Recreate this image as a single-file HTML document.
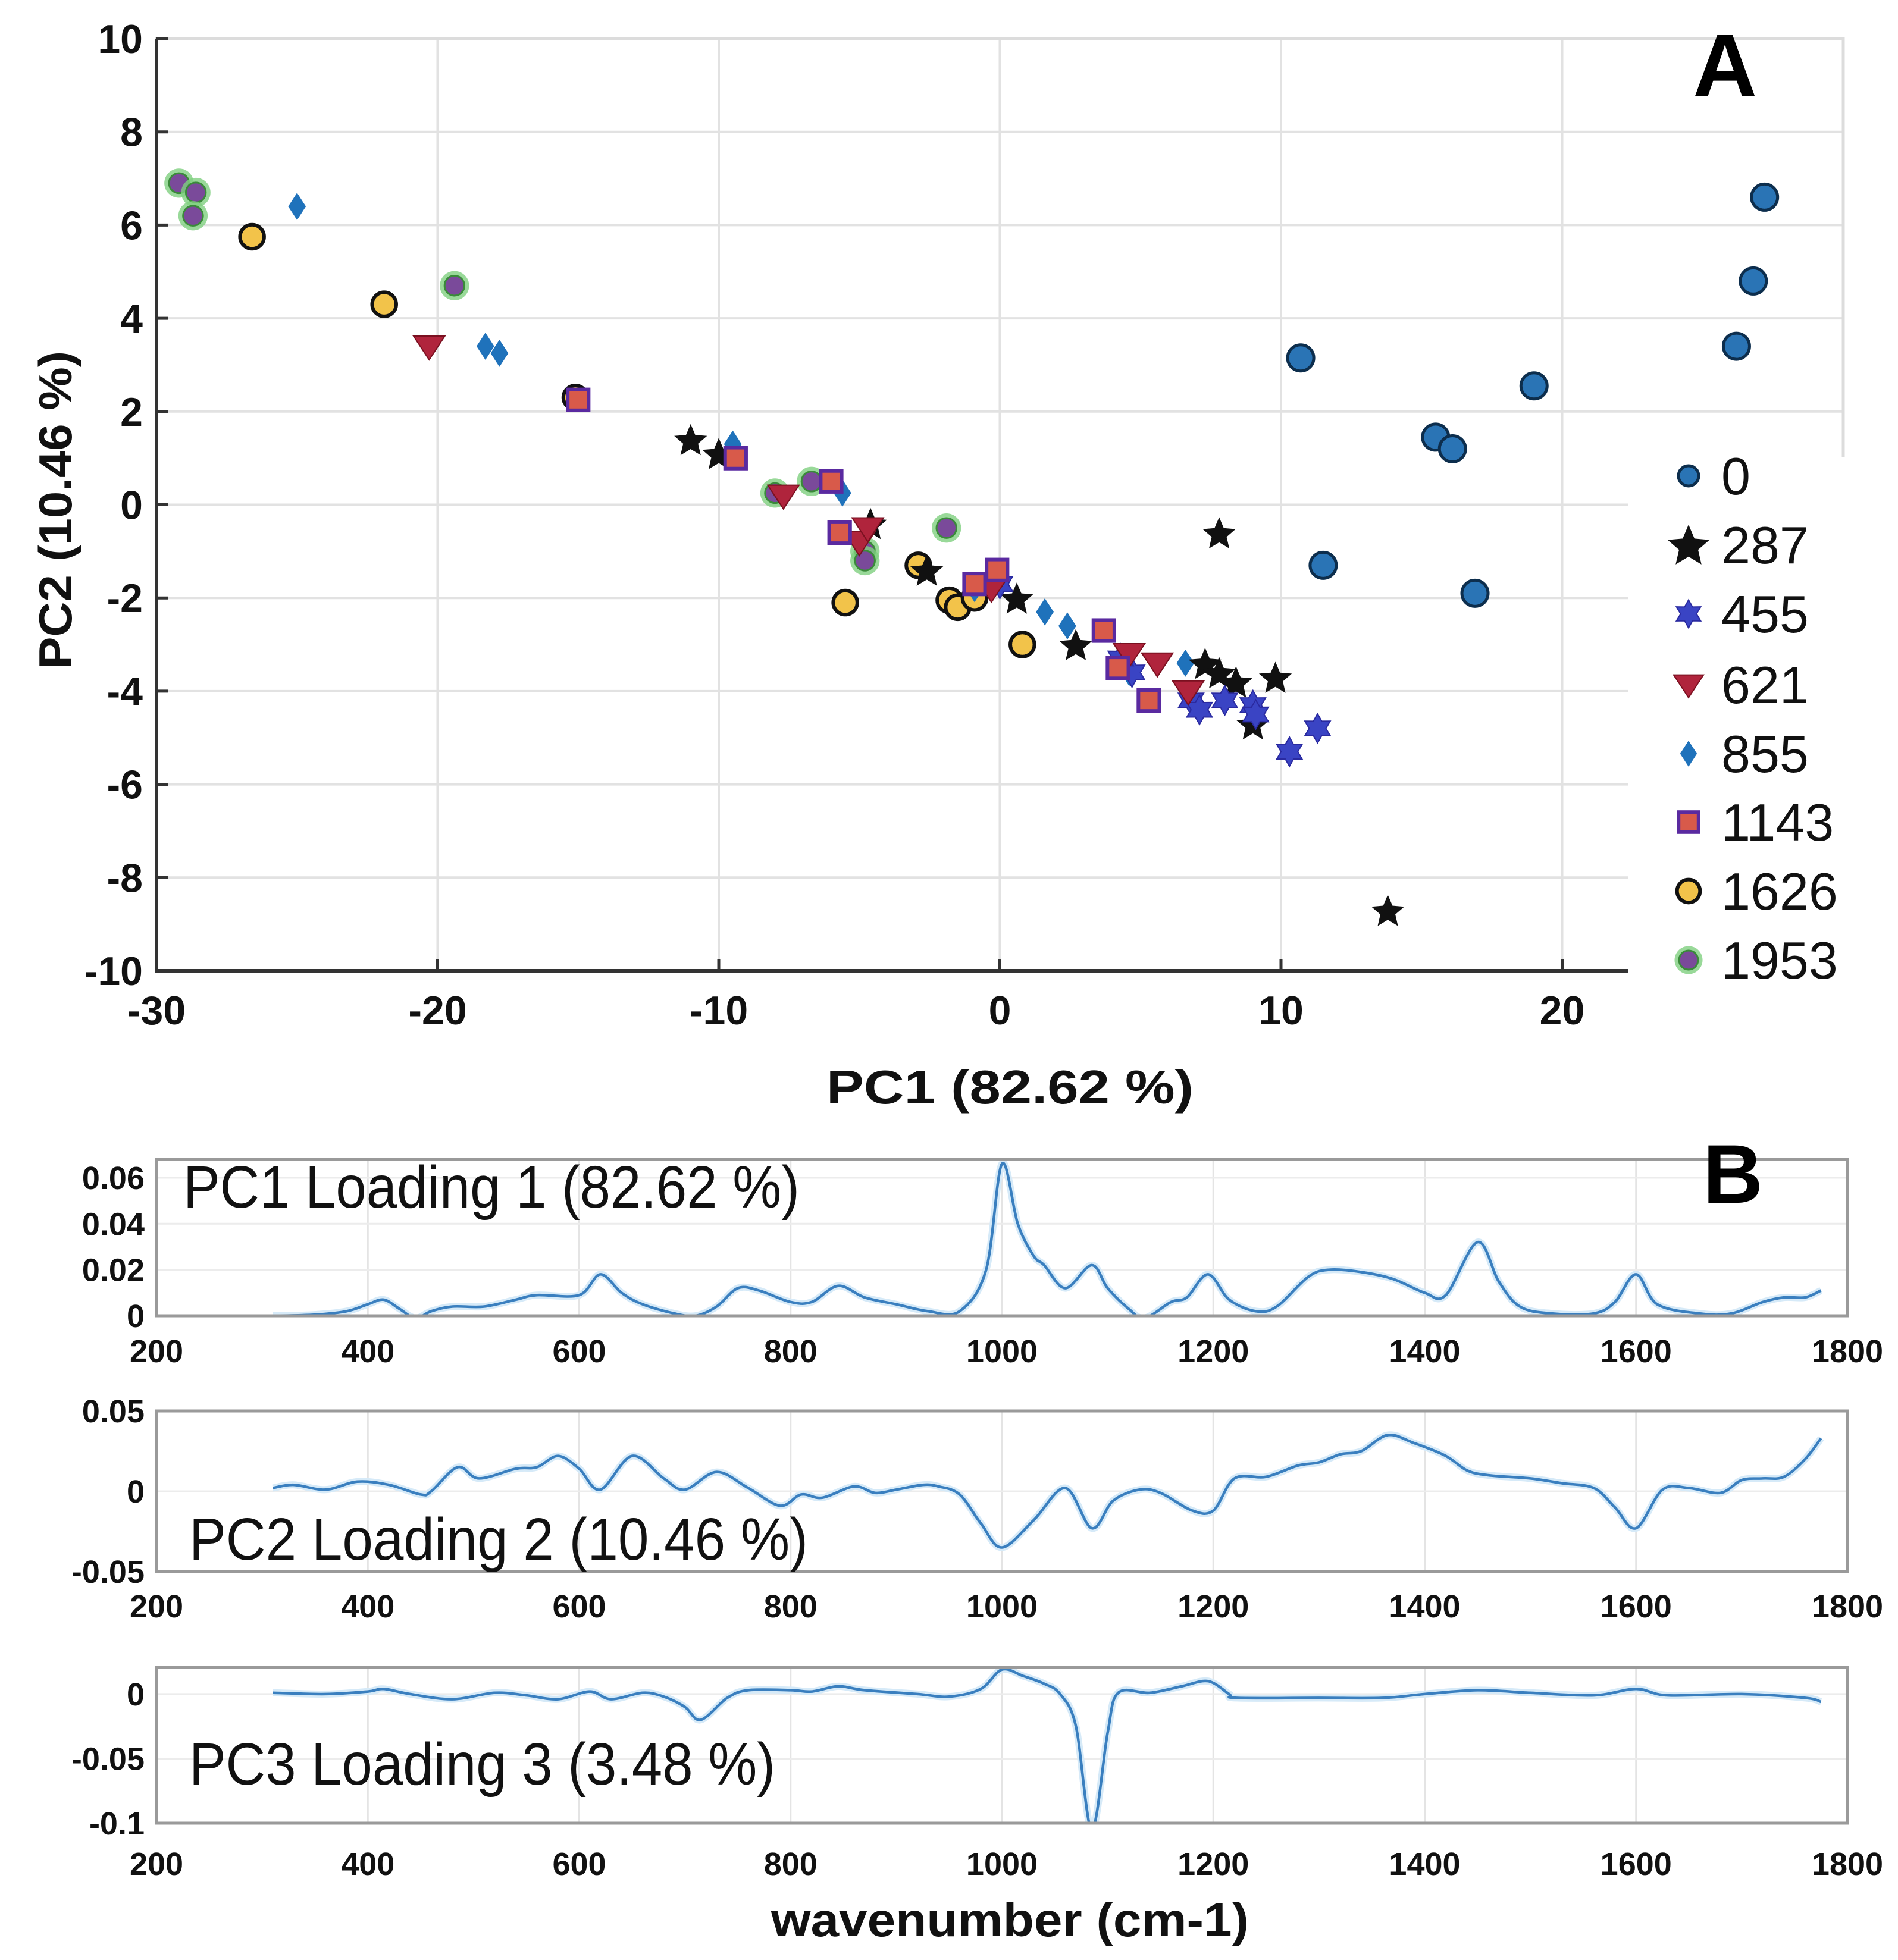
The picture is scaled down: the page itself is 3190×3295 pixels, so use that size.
<!DOCTYPE html>
<html><head><meta charset="utf-8"><style>
html,body{margin:0;padding:0;background:#fff;}
svg{display:block;}
text{font-family:"Liberation Sans",Arial,sans-serif;}
</style></head><body>
<svg id="fig" width="3190" height="3295" viewBox="0 0 3190 3295" xmlns="http://www.w3.org/2000/svg">
<g id="panelA"></g>
<g id="panelB"></g>
</svg>
<script>
// ---------- Panel A data ----------
const seriesNames = ["0","287","455","621","855","1143","1626","1953"];
const s0x = [27.2,26.8,26.2,19.0,10.7,15.5,16.1,11.5,16.9];
const s0y = [6.6,4.8,3.4,2.55,3.15,1.45,1.2,-1.3,-1.9];
const s287x = [-11,-10,-4.6,-2.6,0.6,2.7,7.3,7.8,8.4,9.8,9.0,7.8,13.8];
const s287y = [1.4,1.1,-0.4,-1.4,-2.0,-3.0,-3.4,-3.6,-3.8,-3.7,-4.7,-0.6,-8.7];
const s455x = [4.7,6.8,7.1,8.0,9.0,9.1,10.3,11.3,4.3,0.0];
const s455y = [-3.6,-4.2,-4.4,-4.2,-4.3,-4.5,-5.3,-4.8,-3.3,-1.7];
const s621x = [-20.3,-7.7,-5.0,-0.3,4.6,5.6,6.7,-4.7];
const s621y = [3.4,0.2,-0.8,-1.8,-3.2,-3.4,-4.0,-0.5];
const s855x = [-25,-18.3,-17.8,-9.5,-5.6,1.6,2.4,4.2,4.6,6.6,-0.9];
const s855y = [6.4,3.4,3.25,1.3,0.25,-2.3,-2.6,-3.4,-3.6,-3.4,-1.8];
const s1143x = [-15,-9.4,-6.0,-5.7,-0.1,-0.9,3.7,5.3,4.2];
const s1143y = [2.25,1.0,0.5,-0.6,-1.4,-1.7,-2.7,-4.2,-3.5];
const s1626x = [-26.6,-21.9,-15.1,-2.9,-5.5,-1.8,-1.5,-0.9,0.8];
const s1626y = [5.75,4.3,2.3,-1.3,-2.1,-2.05,-2.2,-2.0,-3.0];
const s1953x = [-29.2,-28.6,-28.7,-19.4,-8.0,-6.7,-4.8,-4.8,-1.9];
const s1953y = [6.9,6.7,6.2,4.7,0.25,0.5,-1.0,-1.2,-0.5];
const xTicksA = [-30,-20,-10,0,10,20];
const yTicksA = [-10,-8,-6,-4,-2,0,2,4,6,8,10];

// ---------- Panel B data ----------
const wTicks = [200,400,600,800,1000,1200,1400,1600,1800];
const pc1w = [310,350,380,400,415,430,445,460,480,510,540,560,600,620,640,660,690,710,730,750,770,800,820,845,870,900,930,960,985,1000,1015,1030,1040,1060,1085,1100,1120,1135,1160,1175,1195,1215,1240,1260,1290,1310,1340,1370,1400,1420,1450,1470,1490,1520,1560,1580,1600,1620,1660,1690,1720,1740,1760,1775];
const pc1v = [0,0.0005,0.002,0.005,0.007,0.003,-0.001,0.002,0.004,0.004,0.007,0.009,0.009,0.018,0.01,0.005,0.001,0,0.004,0.012,0.011,0.006,0.006,0.013,0.008,0.005,0.002,0.002,0.02,0.066,0.04,0.026,0.022,0.012,0.022,0.012,0.003,-0.001,0.006,0.008,0.018,0.007,0.002,0.004,0.017,0.02,0.019,0.016,0.01,0.009,0.032,0.015,0.004,0.001,0.001,0.006,0.018,0.005,0.001,0.001,0.006,0.008,0.008,0.011];
const pc2w = [310,330,360,390,420,450,460,485,505,540,560,580,600,620,650,680,700,730,760,790,810,830,860,880,900,925,940,960,980,1000,1030,1060,1085,1105,1130,1150,1180,1200,1220,1250,1280,1300,1320,1340,1365,1390,1420,1440,1460,1500,1530,1560,1580,1600,1625,1650,1680,1700,1720,1740,1760,1775];
const pc2v = [0.002,0.004,0.001,0.006,0.004,-0.002,0,0.015,0.008,0.014,0.015,0.022,0.014,0.001,0.022,0.008,0.001,0.012,0.002,-0.009,-0.002,-0.004,0.003,-0.001,0.001,0.004,0.003,-0.002,-0.02,-0.035,-0.018,0.002,-0.023,-0.006,0.001,-0.001,-0.012,-0.012,0.008,0.009,0.016,0.018,0.023,0.025,0.035,0.03,0.022,0.013,0.01,0.008,0.005,0.002,-0.01,-0.023,0.001,0.002,-0.001,0.007,0.008,0.009,0.02,0.033];
const pc3w = [310,360,400,415,440,480,520,550,580,610,630,660,680,700,715,740,760,800,820,845,870,920,950,980,1000,1020,1040,1055,1070,1085,1100,1110,1140,1170,1195,1215,1222,1300,1360,1400,1450,1500,1560,1600,1630,1700,1760,1775];
const pc3v = [0.001,0,0.002,0.004,0,-0.004,0.001,-0.001,-0.004,0.002,-0.004,0.001,-0.002,-0.01,-0.02,-0.003,0.003,0.003,0.002,0.006,0.003,0,-0.002,0.004,0.019,0.014,0.008,0,-0.025,-0.105,-0.03,0.001,0.001,0.006,0.01,0,-0.003,-0.003,-0.003,0,0.003,0.001,-0.001,0.004,-0.001,0,-0.003,-0.006];

const NS = "http://www.w3.org/2000/svg";
function mk(parent, tag, attrs, txt){
  const e = document.createElementNS(NS, tag);
  for (const k in attrs) e.setAttribute(k, attrs[k]);
  if (txt !== undefined) e.textContent = txt;
  parent.appendChild(e);
  return e;
}
const A = document.getElementById('panelA');
const B = document.getElementById('panelB');

// ---------- Panel A axes ----------
const aL=263, aR=3098, aT=65, aB=1632;
const ax = v => aL + (v + 30) / 60 * (aR - aL);
const ay = v => aB - (v + 10) / 20 * (aB - aT);

let g = mk(A,'g',{});


xTicksA.forEach(t=>{ if(t>-30){ const l=mk(g,'line',{x1:ax(t),x2:ax(t),y1:aT,y2:aB,stroke:'#e2e2e2','stroke-width':4});   }});
yTicksA.forEach(t=>{ if(t>-10){ const l=mk(g,'line',{x1:aL,x2:aR,y1:ay(t),y2:ay(t),stroke:'#e2e2e2','stroke-width':4});   }});
let fr = mk(A,'rect',{x:aL,y:aT,width:aR-aL,height:aB-aT,fill:'none',stroke:'#dcdcdc','stroke-width':5});



function star(n, ro, ri, cx, cy){
  const p=[]; for(let i=0;i<2*n;i++){const r=i%2?ri:ro; const a=-Math.PI/2+i*Math.PI/n; p.push((cx+r*Math.cos(a)).toFixed(1)+','+(cy+r*Math.sin(a)).toFixed(1));}
  return p.join(' ');
}
function marker(par, type, cx, cy, s){
  let e;
  if(type==='0'){ e=mk(par,'circle',{cx:cx,cy:cy,r:s*0.5,fill:'#2a74b5',stroke:'#0d2e4d','stroke-width':5}); }
  else if(type==='287'){ e=mk(par,'polygon',{points:star(5,s*0.66,s*0.3,cx,cy+3),fill:'#111'}); }
  else if(type==='455'){ e=mk(par,'polygon',{points:star(6,s*0.56,s*0.32,cx,cy),fill:'#3a44c4',stroke:'#2a2aa0','stroke-width':2}); }
  else if(type==='621'){ const h=s*0.52; e=mk(par,'polygon',{points:`${cx-h*1.15},${cy-h*0.75} ${cx+h*1.15},${cy-h*0.75} ${cx},${cy+h}`,fill:'#b0243c',stroke:'#7a1020','stroke-width':2}); }
  else if(type==='855'){ const h=s*0.52; e=mk(par,'polygon',{points:`${cx},${cy-h} ${cx+h*0.65},${cy} ${cx},${cy+h} ${cx-h*0.65},${cy}`,fill:'#1f72bb'}); }
  else if(type==='1143'){ const h=s*0.4; e=mk(par,'rect',{x:cx-h,y:cy-h,width:2*h,height:2*h,fill:'#d85a4a',stroke:'#5a2aa0','stroke-width':6}); }
  else if(type==='1626'){ e=mk(par,'circle',{cx:cx,cy:cy,r:s*0.46,fill:'#f2c34a',stroke:'#111','stroke-width':6}); }
  else { mk(par,'circle',{cx:cx,cy:cy,r:s*0.56,fill:'#7fd07f',opacity:0.8}); e=mk(par,'circle',{cx:cx,cy:cy,r:s*0.38,fill:'#7a4a9a',stroke:'#3a8a3a','stroke-width':3}); }
  return e;
}
const seriesX=[s0x,s287x,s455x,s621x,s855x,s1143x,s1626x,s1953x];
const seriesY=[s0y,s287y,s455y,s621y,s855y,s1143y,s1626y,s1953y];
const drawOrder=[6,7,4,1,2,3,5,0];
drawOrder.forEach(si=>{
  const sg=mk(A,'g',{});
  
  
  seriesX[si].forEach((xv,i)=>{
    const m=marker(sg,seriesNames[si],ax(xv),ay(seriesY[si][i]),44);
    
    
  });
});

// legend
const lg=mk(A,'g',{});


mk(lg,'rect',{x:2737,y:768,width:453,height:960,fill:'#fff'});
const legY=[800,916,1032,1151,1267,1382,1498,1614];
seriesNames.forEach((n,i)=>{
  const eg=mk(lg,'g',{});
  
  
  marker(eg,n,2838,legY[i],n==='287'?56:(n==='0'?34:42));
  const t=mk(eg,'text',{x:2893,y:legY[i]+31,'font-size':88,'font-family':'"DejaVu Sans",sans-serif',fill:'#111'},n);
  
  
});

mk(A,'line',{x1:aL,x2:aL,y1:aT,y2:aB+3,stroke:'#333','stroke-width':6});
mk(A,'line',{x1:aL-3,x2:2737,y1:aB,y2:aB,stroke:'#333','stroke-width':6});
xTicksA.forEach(t=>{
  mk(A,'line',{x1:ax(t),x2:ax(t),y1:aB,y2:aB-20,stroke:'#333','stroke-width':5});
  const tx=mk(A,'text',{x:ax(t),y:1722,'font-size':68,'font-weight':'bold','text-anchor':'middle',fill:'#111'},String(t));
  
  
});
yTicksA.forEach(t=>{
  mk(A,'line',{x1:aL,x2:aL+20,y1:ay(t),y2:ay(t),stroke:'#333','stroke-width':5});
  const tx=mk(A,'text',{x:240,y:ay(t)+24,'font-size':68,'font-weight':'bold','text-anchor':'end',fill:'#111'},String(t));
  
  
});
let t1=mk(A,'text',{x:1389,y:1855,'font-size':80,'font-weight':'bold',fill:'#111',textLength:617,lengthAdjust:'spacingAndGlyphs'},'PC1   (82.62 %)');


let t2=mk(A,'text',{x:0,y:0,'font-size':78,'font-weight':'bold',fill:'#111',textLength:535,lengthAdjust:'spacingAndGlyphs',transform:'translate(120,1125) rotate(-90)'},'PC2   (10.46 %)');


let tA=mk(A,'text',{x:2845,y:162,'font-size':150,'font-weight':'bold',fill:'#000'},'A');



// ---------- Panel B ----------
const bL=263, bR=3105;
const bx = w => bL + (w-200)/1600*(bR-bL);
function smoothPath(P){
  let d='M'+P[0][0].toFixed(1)+','+P[0][1].toFixed(1);
  for(let i=0;i<P.length-1;i++){
    const p0=P[Math.max(0,i-1)], p1=P[i], p2=P[i+1], p3=P[Math.min(P.length-1,i+2)];
    const c1x=p1[0]+(p2[0]-p0[0])/6, c1y=p1[1]+(p2[1]-p0[1])/6;
    const c2x=p2[0]-(p3[0]-p1[0])/6, c2y=p2[1]-(p3[1]-p1[1])/6;
    d+=` C${c1x.toFixed(1)},${c1y.toFixed(1)} ${c2x.toFixed(1)},${c2y.toFixed(1)} ${p2[0].toFixed(1)},${p2[1].toFixed(1)}`;
  }
  return d;
}
function loadingPanel(name, top, bottom, ymin, ymax, yt, ytl, ws, vs, label, lblX, lblY, lblW, tickY){
  const pg=mk(B,'g',{});
  
  
  const by = v => bottom - (v-ymin)/(ymax-ymin)*(bottom-top);
  wTicks.forEach(w=>{ if(w>200&&w<1800){ const l=mk(pg,'line',{x1:bx(w),x2:bx(w),y1:top,y2:bottom,stroke:'#e4e4e4','stroke-width':3});   }});
  yt.forEach(v=>{ const l=mk(pg,'line',{x1:bL,x2:bR,y1:by(v),y2:by(v),stroke:'#ececec','stroke-width':3});   });
  const cp='clip'+name;
  const defs=mk(pg,'defs',{}); const c=mk(defs,'clipPath',{id:cp}); mk(c,'rect',{x:bL,y:top,width:bR-bL,height:bottom-top});
  const d=smoothPath(ws.map((w,i)=>[bx(w),by(vs[i])]));
  mk(pg,'path',{d:d,fill:'none',stroke:'#d6eaf8','stroke-width':12,'stroke-linejoin':'round','clip-path':`url(#${cp})`});
  const ln=mk(pg,'path',{d:d,fill:'none',stroke:'#3a7fbf','stroke-width':4.5,'stroke-linejoin':'round','clip-path':`url(#${cp})`});
  
  
  const f=mk(pg,'rect',{x:bL,y:top,width:bR-bL,height:bottom-top,fill:'none',stroke:'#9a9a9a','stroke-width':5});
  
  
  wTicks.forEach(w=>{
    const tx=mk(pg,'text',{x:bx(w),y:tickY,'font-size':54,'font-weight':'bold','text-anchor':'middle',fill:'#111'},String(w));
    
    
  });
  yt.forEach((v,i)=>{
    const tx=mk(pg,'text',{x:243,y:by(v)+19,'font-size':54,'font-weight':'bold','text-anchor':'end',fill:'#111'},ytl[i]);
    
    
  });
  const lt=mk(pg,'text',{x:lblX,y:lblY,'font-size':100,fill:'#111',textLength:lblW,lengthAdjust:'spacingAndGlyphs'},label);
  
  
}
loadingPanel('pc1-loading',1949,2212,0,0.068,[0,0.02,0.04,0.06],['0','0.02','0.04','0.06'],pc1w,pc1v,'PC1 Loading 1 (82.62 %)',308,2030,1036,2290);
loadingPanel('pc2-loading',2372,2642,-0.05,0.05,[-0.05,0,0.05],['-0.05','0','0.05'],pc2w,pc2v,'PC2 Loading 2 (10.46 %)',318,2622,1040,2719);
loadingPanel('pc3-loading',2803,3065,-0.1,0.0207,[-0.1,-0.05,0],['-0.1','-0.05','0'],pc3w,pc3v,'PC3 Loading 3 (3.48 %)',318,3000,985,3152);
let tB=mk(B,'text',{x:2862,y:2022,'font-size':140,'font-weight':'bold',fill:'#000'},'B');


let tw=mk(B,'text',{x:1296,y:3255,'font-size':80,'font-weight':'bold',fill:'#111',textLength:803,lengthAdjust:'spacingAndGlyphs'},'wavenumber (cm-1)');


</script>
</body></html>
